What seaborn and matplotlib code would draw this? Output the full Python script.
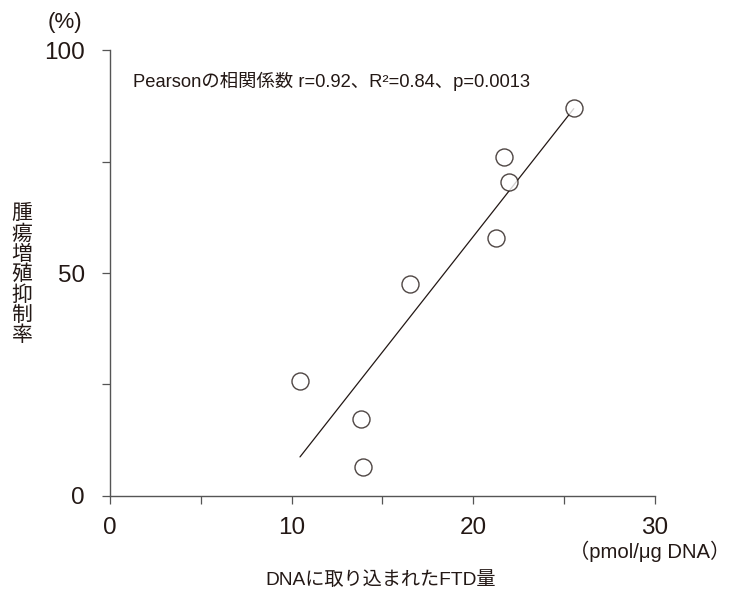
import numpy as np
import pandas as pd
import seaborn as sns
import matplotlib
matplotlib.use("Agg")
import matplotlib.pyplot as plt
from matplotlib.ticker import MultipleLocator

sns.set_style("ticks")
plt.rcParams['font.family'] = ['Liberation Sans', 'Noto Sans CJK JP', 'DejaVu Sans']

ftd_uptake = [10.46, 13.81, 13.92, 16.51, 21.24, 21.68, 21.96, 25.54]
inhibition = [25.8, 17.3, 6.5, 47.5, 57.8, 76.0, 70.4, 87.0]
x_ticks = [0, 10, 20, 30]
y_ticks = [0, 50, 100]
annot = "Pearsonの相関係数 r=0.92、R²=0.84、p=0.0013"

df = pd.DataFrame({"x": ftd_uptake, "y": inhibition})
ink = "#231815"

fig = plt.figure(figsize=(7.34, 5.91), dpi=100)
ax = fig.add_axes([0.150, 0.161, 0.742, 0.754])

sns.regplot(data=df, x="x", y="y", ax=ax, ci=None, truncate=True,
            scatter_kws=dict(s=150, facecolors="white", edgecolors=ink, linewidths=1.0, zorder=3),
            line_kws=dict(color=ink, lw=0.9, zorder=2))

ax.set_xlim(0, 30)
ax.set_ylim(0, 100)
ax.set_xticks(x_ticks)
ax.set_yticks(y_ticks)
ax.xaxis.set_minor_locator(MultipleLocator(5))
ax.yaxis.set_minor_locator(MultipleLocator(25))
ax.tick_params(which="both", direction="out", length=6, width=0.9, color="#555555")
ax.tick_params(which="major", labelsize=17.5, labelcolor=ink)
ax.tick_params(axis="x", which="major", pad=9)
ax.tick_params(axis="y", which="major", pad=12)
for s in ["top", "right"]:
    ax.spines[s].set_visible(False)
for s in ["left", "bottom"]:
    ax.spines[s].set_color("#555555")
    ax.spines[s].set_linewidth(1.0)
ax.set_xlabel("")
ax.set_ylabel("")

ax.text(0.042, 0.93, annot, transform=ax.transAxes, fontsize=13.2, color=ink, va="center", ha="left")

fig.text(0.0886, 0.962, "(%)", fontsize=16, color=ink, ha="center", va="center")
fig.text(0.885, 0.0677, "（pmol/μg DNA）", fontsize=14.6, color=ink, ha="center", va="center")
fig.text(0.519, 0.019, "DNAに取り込まれたFTD量", fontsize=13.8, color=ink, ha="center", va="center")
fig.text(0.030, 0.5355, "\n".join("腫瘍増殖抑制率"), fontsize=15, color=ink,
         ha="center", va="center", linespacing=1.06)

fig.savefig("out.png", dpi=100)
